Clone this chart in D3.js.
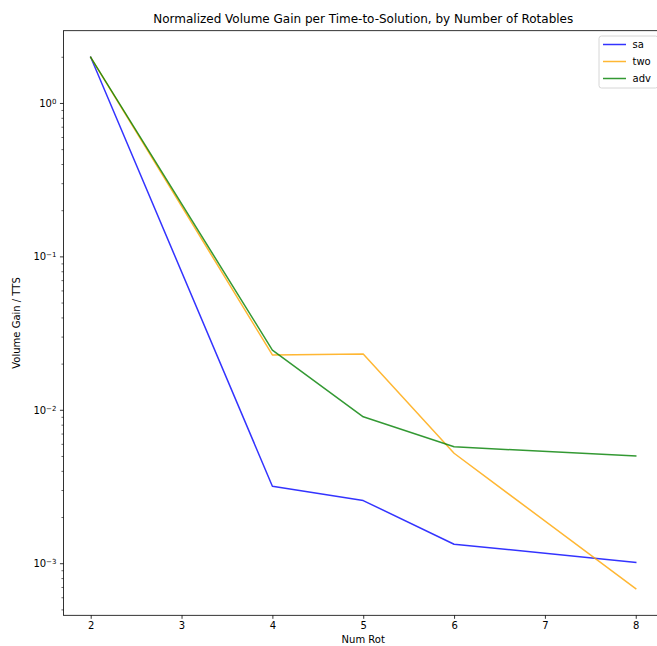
<!DOCTYPE html>
<html lang="en">
<head>
    <meta charset="UTF-8">
    <title>Normalized Volume Gain per Time-to-Solution</title>
    <script src="https://d3js.org/d3.v7.min.js"></script>
    <style>
        body {
            margin: 0;
            padding: 0;
            background-color: #fff;
            overflow: hidden;
        }
        svg text {
            font-family: "DejaVu Sans", sans-serif;
            fill: #000;
        }
    </style>
</head>
<body>
    <svg id="chart" width="657" height="646"></svg>

    <script>
        // Data
        var numRot = [2, 4, 5, 6, 8];
        var saValues = [2.0, 0.0032, 0.00258, 0.00134, 0.00102];
        var twoValues = [2.0, 0.02295, 0.0233, 0.00525, 0.000687];
        var advValues = [2.0, 0.0247, 0.00907, 0.00578, 0.00504];
        var seriesNames = ["sa", "two", "adv"];
        var seriesColors = ["blue", "orange", "green"];
        var xTicks = [2, 3, 4, 5, 6, 7, 8];
        var yMajorExps = [-3, -2, -1, 0];

        var series = [
            { name: seriesNames[0], color: seriesColors[0], values: saValues },
            { name: seriesNames[1], color: seriesColors[1], values: twoValues },
            { name: seriesNames[2], color: seriesColors[2], values: advValues }
        ];

        var svg = d3.select("#chart");

        // axes box (right side runs past the window, as in the reference)
        var plotLeft = 63.45, plotRight = 663, plotTop = 30.7, plotBottom = 615.3;

        // matplotlib-like 5% margins
        var xMin = d3.min(numRot), xMax = d3.max(numRot);
        var xPad = (xMax - xMin) * 0.05;
        var x = d3.scaleLinear()
            .domain([xMin - xPad, xMax + xPad])
            .range([plotLeft, plotRight]);

        var allVals = saValues.concat(twoValues, advValues);
        var lMin = Math.log10(d3.min(allVals)), lMax = Math.log10(d3.max(allVals));
        var lPad = (lMax - lMin) * 0.05;
        var y = d3.scaleLog()
            .domain([Math.pow(10, lMin - lPad), Math.pow(10, lMax + lPad)])
            .range([plotBottom, plotTop]);

        // lines
        var line = d3.line()
            .x(function(d, i) { return x(numRot[i]); })
            .y(function(d) { return y(d); });

        svg.append("g")
            .selectAll("path")
            .data(series)
            .enter()
            .append("path")
                .attr("d", function(d) { return line(d.values); })
                .attr("fill", "none")
                .attr("stroke", function(d) { return d.color; })
                .attr("stroke-opacity", 0.8)
                .attr("stroke-width", 1.5)
                .attr("stroke-linejoin", "round")
                .attr("stroke-linecap", "square");

        // x axis
        var xAxis = d3.axisBottom(x)
            .tickValues(xTicks)
            .tickSize(3.5)
            .tickPadding(3.5)
            .tickFormat(d3.format("d"));
        var gx = svg.append("g")
            .attr("transform", "translate(0," + plotBottom + ")")
            .call(xAxis);
        gx.select(".domain").remove();
        gx.selectAll("line").attr("stroke", "#000").attr("stroke-width", 0.8);
        gx.selectAll("text").attr("font-size", 10).attr("font-family", "DejaVu Sans");

        // y axis minor ticks
        var yDom = y.domain();
        var minorTicks = [];
        for (var e = -4; e <= 1; e++) {
            for (var m = 2; m <= 9; m++) {
                var v = m * Math.pow(10, e);
                if (v >= yDom[0] && v <= yDom[1]) minorTicks.push(v);
            }
        }
        svg.append("g")
            .selectAll("line")
            .data(minorTicks)
            .enter()
            .append("line")
                .attr("x1", plotLeft - 2)
                .attr("x2", plotLeft)
                .attr("y1", function(d) { return y(d); })
                .attr("y2", function(d) { return y(d); })
                .attr("stroke", "#000")
                .attr("stroke-width", 0.6);

        // y axis major ticks + labels
        var gy = svg.append("g");
        var major = gy.selectAll("g")
            .data(yMajorExps)
            .enter()
            .append("g")
                .attr("transform", function(d) { return "translate(" + plotLeft + "," + y(Math.pow(10, d)) + ")"; });
        major.append("line")
            .attr("x1", -3.5)
            .attr("x2", 0)
            .attr("stroke", "#000")
            .attr("stroke-width", 0.8);
        var lbl = major.append("text")
            .attr("x", -7)
            .attr("dy", "0.35em")
            .attr("text-anchor", "end")
            .attr("font-size", 10);
        lbl.append("tspan").text("10");
        lbl.append("tspan")
            .attr("dy", "-0.45em")
            .attr("font-size", 7)
            .text(function(d) { return d === 0 ? "0" : "\u2212" + Math.abs(d); });

        // spines
        svg.append("rect")
            .attr("x", plotLeft)
            .attr("y", plotTop)
            .attr("width", plotRight - plotLeft)
            .attr("height", plotBottom - plotTop)
            .attr("fill", "none")
            .attr("stroke", "#000")
            .attr("stroke-width", 0.8);

        // title and axis labels
        svg.append("text")
            .attr("x", (plotLeft + plotRight) / 2)
            .attr("y", 23)
            .attr("text-anchor", "middle")
            .attr("font-size", 12)
            .text("Normalized Volume Gain per Time-to-Solution, by Number of Rotables");

        svg.append("text")
            .attr("x", (plotLeft + plotRight) / 2)
            .attr("y", 643)
            .attr("text-anchor", "middle")
            .attr("font-size", 10)
            .text("Num Rot");

        svg.append("text")
            .attr("transform", "translate(20," + ((plotTop + plotBottom) / 2) + ") rotate(-90)")
            .attr("text-anchor", "middle")
            .attr("font-size", 10)
            .text("Volume Gain / TTS");

        // legend
        var legend = svg.append("g").attr("transform", "translate(599,36)");
        legend.append("rect")
            .attr("width", 59)
            .attr("height", 52)
            .attr("rx", 2.5)
            .attr("fill", "#fff")
            .attr("fill-opacity", 0.8)
            .attr("stroke", "#ccc")
            .attr("stroke-width", 0.8);
        var items = legend.selectAll("g.item")
            .data(series)
            .enter()
            .append("g")
                .attr("class", "item")
                .attr("transform", function(d, i) { return "translate(0," + (8.5 + i * 17) + ")"; });
        items.append("line")
            .attr("x1", 4)
            .attr("x2", 27)
            .attr("stroke", function(d) { return d.color; })
            .attr("stroke-opacity", 0.8)
            .attr("stroke-width", 1.5);
        items.append("text")
            .attr("x", 33.5)
            .attr("dy", "0.35em")
            .attr("font-size", 10)
            .text(function(d) { return d.name; });
    </script>
</body>
</html>
